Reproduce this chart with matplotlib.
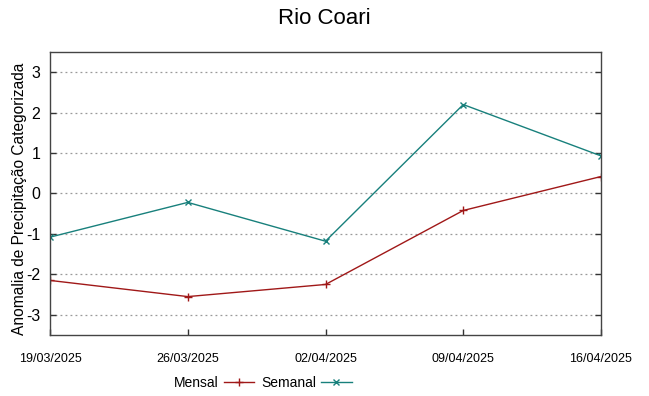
import matplotlib
matplotlib.use("Agg")
import matplotlib.pyplot as plt

plt.rcParams['font.family'] = ['Liberation Sans', 'DejaVu Sans']

dates = ["19/03/2025", "26/03/2025", "02/04/2025", "09/04/2025", "16/04/2025"]
mensal = [-2.15, -2.55, -2.25, -0.42, 0.42]
semanal = [-1.08, -0.22, -1.18, 2.2, 0.93]
yticks = [-3, -2, -1, 0, 1, 2, 3]

fig = plt.figure(figsize=(6.49, 3.96), dpi=100)
ax = fig.add_axes([50/649, 1-335/396, (601-50)/649, (335-52)/396])

x = list(range(len(dates)))
l1, = ax.plot(x, mensal, color='#a01818', lw=1.0, marker='+', ms=6, mew=1.0, label='Mensal')
l2, = ax.plot(x, semanal, color='#18807c', lw=1.0, marker='x', ms=5, mew=1.0, label='Semanal')

ax.set_xlim(0, 4)
ax.set_ylim(-3.5, 3.5)
ax.set_yticks(yticks)
ax.set_yticklabels([str(v) for v in yticks], fontsize=11.5)
ax.set_xticks(x)
ax.set_xticklabels(dates, fontsize=9)
ax.tick_params(axis='both', direction='in', length=4, width=1, color='#333333')
ax.tick_params(axis='y', right=True, pad=7)
ax.tick_params(axis='x', pad=13)
ax.yaxis.grid(True, linestyle=(0, (1.5, 2.5)), color='#999999', lw=0.9)
for s in ax.spines.values():
    s.set_color('#444444')
    s.set_linewidth(1.0)

ax.set_ylabel('Anomalia de Precipitação Categorizada', fontsize=11.2)
ax.yaxis.set_label_coords((27-50)/551, (335-199)/283)
fig.text(0.5, 1-18/396, 'Rio Coari', fontsize=16, ha='center', va='center')

fig.legend(handles=[l1, l2], loc='center', bbox_to_anchor=(263/649, 1-383/396), ncol=2,
           frameon=False, markerfirst=False, fontsize=10,
           handlelength=2.2, columnspacing=0.5, handletextpad=0.35)

fig.savefig('out.png', dpi=100)
